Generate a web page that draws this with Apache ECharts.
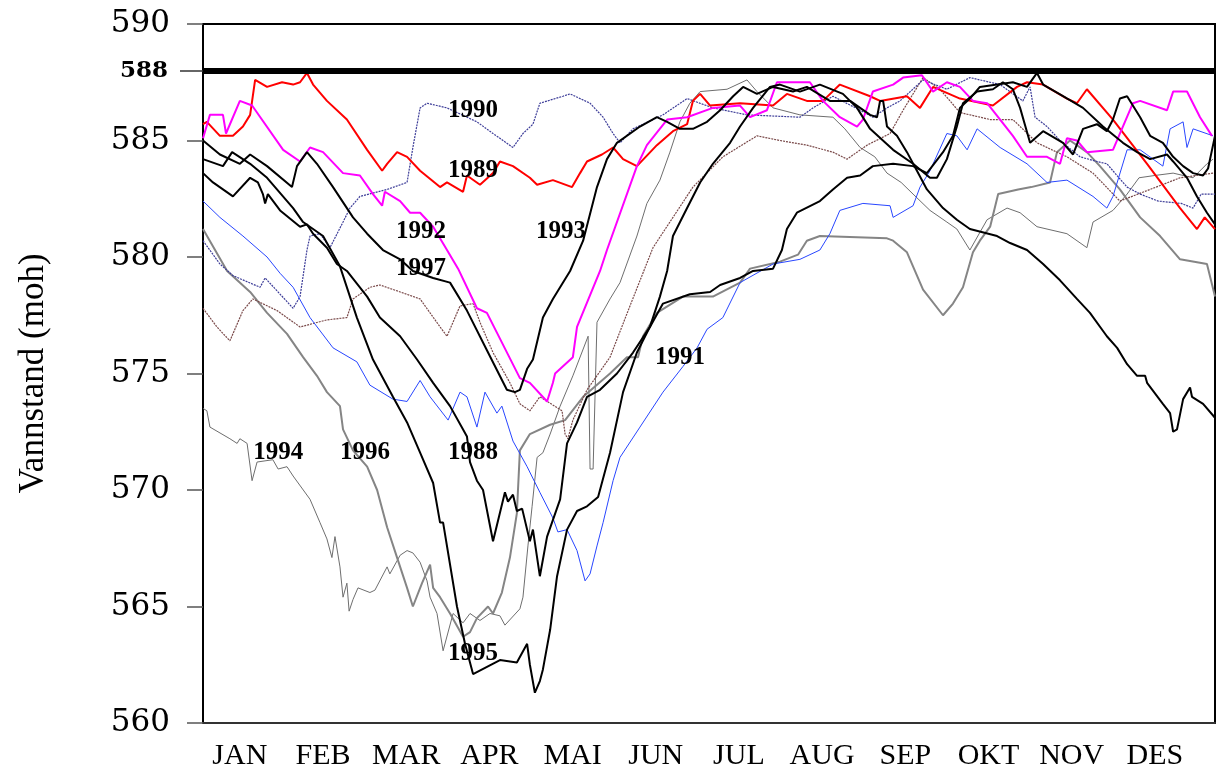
<!DOCTYPE html>
<html>
<head>
<meta charset="utf-8">
<title>Vannstand</title>
<script src="https://cdn.jsdelivr.net/npm/echarts@6/dist/echarts.min.js"></script>
<style>
  html, body { margin: 0; padding: 0; background: #fff; }
  #chart { width: 1223px; height: 771px; }
</style>
</head>
<body>
<div id="chart"></div>
<script>
// x = day of year (0..365), y = vannstand (moh)
const months = ['JAN', 'FEB', 'MAR', 'APR', 'MAI', 'JUN', 'JUL', 'AUG', 'SEP', 'OKT', 'NOV', 'DES']
const monthPos = months.map((m, i) => 13.3 + 30 * i)
const yTicks = [560, 565, 570, 575, 580, 585, 590]
const hrv = 588

const y1988 = [[0,583.6],[3.6,583.2],[10.8,582.6],[17,583.4],[19.8,583.2],[21.6,582.7],[22.4,582.3],[23.4,582.7],[27.8,582.0],[35,581.3],[37.5,581.4],[39.7,581.0],[44.7,580.4],[48.3,579.7],[51.9,579.4],[59.2,578.3],[63.8,577.4],[71.1,576.6],[77.2,575.6],[83,574.6],[89.1,573.6],[93.8,572.6],[95.2,572.3],[96.3,571.2],[98.8,570.4],[101,570.0],[104.6,567.8],[108.9,569.9],[110,569.5],[111.8,569.8],[113.2,569.1],[115.1,569.2],[117.9,567.8],[119,568.3],[121.5,566.3],[124.1,568.0],[128.8,569.6],[131.3,572.0],[134.9,572.9],[138.5,574.0],[143.2,574.3],[149.3,575.0],[155.1,575.9],[161.2,577.0],[165.9,578.0],[175.6,578.4],[182.9,578.5],[186.5,578.8],[193.7,579.1],[198.4,579.4],[205.6,579.5],[208.8,580.3],[210.6,581.2],[214.2,581.9],[222.5,582.4],[227.2,582.9],[232.3,583.4],[237,583.5],[241.6,583.9],[248.9,584.0],[256.1,583.9],[261.1,583.6],[266.9,584.5],[270.5,585.2],[273,586.4],[276.6,586.8],[280.2,587.3],[286.4,587.4],[292.1,587.5],[297.2,587.3],[300.8,587.9],[303,587.4],[310.2,586.9],[317.4,586.4],[324.6,585.6],[331.8,584.9],[336.9,584.5],[341.6,584.2],[347.7,584.4],[349.9,584.1],[354.9,583.4],[358.5,582.6],[362.1,581.9],[365,581.4]]

const y1989 = [[0,585.7],[1.4,585.8],[6.1,585.2],[10.8,585.2],[14.4,585.6],[17,586.1],[18.8,587.6],[23.1,587.3],[28.5,587.5],[32.5,587.4],[35,587.5],[37.5,587.9],[39.7,587.4],[44.7,586.7],[51.9,585.9],[59.2,584.6],[64.6,583.7],[66.4,584.0],[70,584.5],[73.6,584.3],[78.3,583.7],[85.5,583.0],[88,583.2],[93.8,582.8],[95.2,583.5],[99.9,583.1],[104.6,583.6],[107.1,584.1],[111.8,583.9],[117.9,583.4],[120.5,583.1],[126.2,583.3],[133.1,583.0],[136,583.6],[138.5,584.1],[143.9,584.4],[147.9,584.7],[151.5,584.2],[156.5,583.9],[163.7,584.8],[169.5,585.4],[174.6,585.7],[176.7,586.7],[179.3,587.0],[182.9,586.5],[193.7,586.6],[205.6,586.5],[210.6,587.0],[217.8,586.7],[223.6,586.7],[229.7,587.4],[240.6,586.9],[244.2,586.7],[253.9,586.9],[258.6,586.4],[263.3,587.3],[273,586.8],[284.9,586.5],[293.6,587.3],[297.2,587.5],[303,587.4],[311.6,586.8],[315.2,586.6],[318.8,587.2],[328.2,585.9],[340.5,584.0],[352.4,582.1],[358.5,581.2],[361.3,581.7],[365,581.2]]

const y1990 = [[0,580.7],[6.1,579.7],[10.8,579.2],[20.6,578.7],[22.4,579.1],[32.5,577.8],[35,578.3],[37.5,580.3],[38.6,580.9],[42.2,581.0],[45.8,580.4],[50.5,581.5],[53,582.1],[56.6,582.6],[66.4,582.9],[73.6,583.2],[75.7,584.7],[78.3,586.4],[80.8,586.6],[88,586.4],[98.8,585.8],[104.6,585.3],[111.8,584.7],[115.4,585.3],[119,585.7],[121.5,586.6],[129.8,586.9],[132.4,587.0],[139.6,586.6],[144.3,586.0],[147.9,585.3],[150.4,584.9],[155.1,585.5],[165.9,586.1],[174.6,586.8],[183.9,586.4],[196.2,586.1],[215.3,586.0],[220,586.4],[227.2,586.9],[237,586.3],[241.6,586.0],[246.7,586.4],[251.4,586.7],[259.7,587.6],[268.3,587.2],[276.6,587.7],[287.5,587.4],[295.7,586.7],[298.3,587.3],[300.1,586.0],[304.4,585.6],[309.1,585.0],[316.3,584.3],[322.4,584.1],[326,584.0],[333.3,583.0],[338,582.7],[344.5,582.4],[352.8,582.3],[357.1,582.1],[360,582.7],[365,582.7]]

const y1991 = [[0,582.4],[6.1,581.7],[14.4,580.9],[23.1,580.0],[27.8,579.3],[32.5,578.7],[38.6,577.4],[46.9,576.1],[55.5,575.5],[60.2,574.5],[68.5,573.9],[73.6,573.8],[78.3,574.7],[81.9,574.0],[88.4,573.0],[92.7,574.2],[95.2,574.0],[98.8,572.7],[101.7,574.2],[106,573.3],[107.8,573.6],[111.8,572.1],[116.9,571.0],[121.5,569.9],[126.2,568.8],[128,568.2],[131.3,568.3],[134.9,567.4],[137.8,566.1],[139.6,566.4],[142.1,567.6],[144.3,568.6],[147.9,570.4],[150.4,571.4],[157.6,572.7],[165.9,574.2],[173.1,575.3],[178.2,576.1],[181.8,576.9],[187.5,577.4],[193.7,578.9],[205.6,579.7],[215.3,579.9],[222.5,580.3],[226.1,581.0],[229.7,582.0],[238,582.3],[247.8,582.2],[248.9,581.7],[256.1,582.2],[258.6,583.0],[262.2,583.7],[268.3,585.3],[271.9,585.2],[275.6,584.6],[279.2,585.5],[287.5,584.7],[297.2,584.0],[304.4,583.2],[311.6,583.3],[321,582.6],[326,582.1],[328.2,582.6],[333.3,584.6],[338,584.6],[346.2,583.9],[348.8,585.5],[353.5,585.8],[354.9,584.7],[357.1,585.5],[364.3,585.2]]

const y1992 = [[0,585.1],[2.5,586.1],[7.2,586.1],[8.3,585.3],[13.3,586.7],[17.7,586.5],[28.9,584.6],[35,584.1],[38.6,584.7],[43.3,584.5],[50.5,583.6],[56.6,583.5],[61.3,582.7],[64.6,582.2],[65.6,582.8],[71.1,582.4],[74.7,581.9],[78.3,581.9],[83,581.3],[88,580.3],[92,579.5],[98.8,577.8],[102.4,577.6],[114.3,574.8],[117.9,574.6],[124.1,573.8],[126.2,574.6],[127,575.0],[133.4,575.7],[134.9,577.0],[143.2,579.4],[145.7,580.3],[156.5,583.9],[160.1,584.8],[167.4,585.9],[174.6,586.0],[183.9,586.4],[193.7,586.5],[197.3,586.0],[203.4,586.3],[207,587.5],[218.9,587.5],[223.6,586.7],[229.7,586.0],[235.9,585.6],[238,585.9],[241.6,587.1],[248.9,587.4],[252.5,587.7],[259.3,587.8],[263.3,587.1],[268.3,587.5],[273,587.3],[277.7,586.7],[282.8,586.6],[287.5,585.9],[292.1,585.2],[297.2,584.3],[304.4,584.3],[309.1,584.0],[311.6,585.1],[315.2,585.0],[318.8,584.5],[328.2,584.6],[335.4,586.6],[338,586.7],[347.7,586.3],[349.9,587.1],[354.9,587.1],[359.6,586.0],[363.9,585.2]]

const y1993 = [[0,585.0],[6.1,584.4],[13.3,584.0],[17,584.4],[23.1,583.9],[32.1,583.0],[33.9,583.9],[37.5,584.5],[41.1,584.0],[46.9,583.0],[54.1,581.7],[59.2,581.0],[64.9,580.3],[71.1,579.9],[75.7,579.4],[83,579.1],[89.1,578.9],[95.2,577.7],[102.4,576.0],[109.6,574.3],[112.5,574.2],[114.3,574.3],[116.9,575.2],[119,575.6],[122.6,577.4],[126.2,578.2],[132.4,579.4],[137.1,580.7],[142.1,583.0],[145.7,584.2],[149.3,584.9],[157.6,585.6],[163.7,586.0],[167.4,585.8],[172,585.5],[176.7,585.5],[181.8,585.8],[186.5,586.3],[191.2,586.9],[194.8,587.3],[199.8,587.0],[205.6,587.3],[212.8,587.1],[217.8,587.3],[226.1,586.7],[233.4,586.7],[240.6,586.1],[243.1,586.0],[244.2,586.7],[245.3,586.7],[246.7,585.6],[250.3,585.2],[253.9,584.5],[257.5,583.7],[261.1,582.9],[266.9,582.1],[271.9,581.6],[276.6,581.2],[286.4,580.9],[291.1,580.6],[297.2,580.3],[303,579.7],[309.1,579.0],[315.2,578.2],[319.9,577.6],[326,576.6],[329.7,576.1],[333.3,575.4],[336.9,574.9],[339.8,574.9],[340.5,574.6],[346.2,573.7],[348.8,573.3],[349.9,572.5],[351.3,572.6],[353.5,573.9],[356,574.4],[356.7,574.0],[360.7,573.7],[365,573.1]]

const y1994 = [[0,573.5],[1.4,573.4],[2.5,572.7],[9.7,572.2],[12.3,572.0],[13.3,572.2],[15.9,572.0],[17.7,570.4],[19.5,571.2],[25.2,571.3],[27.1,570.9],[30.3,571.0],[32.5,570.6],[38.6,569.6],[42.2,568.6],[44.7,567.9],[46.5,567.1],[47.6,568.0],[49.4,566.7],[50.5,565.4],[51.9,566.0],[52.7,564.8],[54.1,565.3],[55.9,565.8],[60.2,565.6],[62,565.7],[66.4,566.7],[67.4,566.4],[71.1,567.2],[73.6,567.4],[75.7,567.3],[78.3,566.9],[80.8,566.1],[81.9,565.4],[84.4,564.7],[86.6,563.1],[90.2,564.7],[93.8,564.3],[96.3,564.7],[99.9,564.4],[103.5,564.7],[107.1,564.6],[108.9,564.2],[114.3,564.9],[115.4,565.4],[117.2,567.6],[118.7,569.3],[120.5,571.4],[122.6,571.6],[125.2,572.4],[128.8,573.6],[133.4,574.9],[138.9,576.6],[139.6,570.9],[140.7,570.9],[142.1,577.2],[146.8,578.2],[150.4,578.9],[156.5,580.9],[160.1,582.3],[164.8,583.3],[168.4,584.5],[172,585.8],[175.6,586.6],[179.3,587.1],[189,587.2],[196.2,587.6],[199.8,587.1],[205.6,586.4],[215.3,586.1],[227.2,586.0],[231.5,585.5],[237,584.7],[242.3,584.3],[246.7,583.6],[251.8,583.2],[256.1,582.7],[262.2,582.0],[268.3,581.5],[271.9,581.2],[276.6,580.3],[282.8,581.6],[290,582.1],[294.7,581.9],[300.8,581.3],[311.6,581.0],[318.8,580.4],[321,581.5],[328.2,582.0],[333.3,582.7],[337.6,583.4],[343.4,583.5],[349.9,583.6],[357.1,583.4],[362.1,584.0],[364.3,584.2]]

const y1995 = [[0,584.2],[7.2,583.9],[10.5,584.5],[17,584.0],[23.1,583.4],[32.5,582.1],[36.1,581.5],[43.3,580.9],[49.4,579.6],[55.5,577.4],[61.3,575.6],[68.5,574.0],[73.6,572.9],[78.3,571.6],[83,570.3],[85.5,568.6],[86.6,568.6],[91.6,565.0],[94.5,563.4],[97.4,562.1],[107.1,562.7],[113.2,562.6],[116.9,563.4],[117.9,562.5],[119.7,561.3],[121.5,561.8],[122.6,562.3],[125.2,564.0],[127.7,566.3],[131.3,568.3],[134.9,569.1],[138.5,569.3],[142.5,569.7],[146.8,571.6],[151.5,574.2],[156.5,575.9],[161.2,577.0],[164.8,578.3],[167.4,579.4],[169.5,580.9],[174.6,582.1],[179.3,583.2],[183.9,584.0],[190.1,584.9],[193.7,585.6],[198.4,586.4],[204.5,587.3],[208.1,587.4],[215.3,587.1],[222.5,587.4],[230.8,587.0],[235.9,586.4],[240.6,585.5],[248.9,584.6],[256.1,584.0],[262.2,583.4],[264.7,583.4],[268.3,584.2],[271.9,585.6],[274.1,586.6],[279.2,587.1],[284.9,587.2],[288.5,587.5],[292.1,587.2],[294.7,586.4],[298.3,584.9],[303,585.4],[310.2,584.9],[313.8,584.4],[317.4,585.5],[322.4,585.7],[326,585.4],[328.2,585.9],[330.7,586.8],[333.3,586.9],[338,586.0],[341.6,585.2],[346.2,584.9],[349.9,584.3],[353.5,583.9],[357.1,583.6],[360.7,583.5],[362.5,583.8],[365,585.2]]

const y1996 = [[0,581.2],[8.7,579.4],[17,578.5],[23.1,577.6],[30.3,576.7],[36.1,575.7],[41.1,574.9],[44.7,574.2],[49.4,573.6],[50.5,572.6],[54.1,571.7],[59.2,571.0],[62.8,570.0],[66.4,568.4],[70,567.1],[73.6,565.8],[75.7,565.0],[79,566.0],[81.9,566.8],[83,565.8],[85.5,565.4],[89.1,564.7],[93.8,563.7],[96.3,563.9],[98.8,564.5],[102.8,565.0],[104.6,564.7],[107.8,565.6],[110.7,567.1],[113.2,569.0],[114.3,571.7],[117.9,572.4],[125.2,572.8],[130.6,573.0],[137.1,574.0],[146.8,575.0],[152.9,575.7],[156.9,575.7],[158.7,576.6],[163.7,577.6],[173.1,578.3],[183.9,578.3],[193.7,578.9],[197.3,579.5],[208.1,579.8],[214.6,580.1],[217.8,580.7],[222.5,580.9],[246.7,580.8],[248.9,580.7],[253.9,580.2],[259.7,578.6],[266.9,577.5],[270.5,578.0],[274.1,578.7],[277.7,580.2],[280.2,580.7],[283.9,581.3],[286.8,582.7],[294,582.9],[298.7,583.0],[305.5,583.2],[308,584.5],[312.7,585.0],[318.8,584.5],[323.5,583.9],[330.7,582.9],[338,581.7],[345.2,580.9],[352.4,579.9],[362.1,579.7],[365,578.3]]

const y1997 = [[0,577.8],[5,577.0],[9.7,576.4],[14.4,577.7],[18,578.2],[26.7,577.7],[35,577.0],[44.7,577.3],[51.9,577.4],[54.1,578.2],[60.2,578.7],[63.8,578.8],[71.1,578.5],[78.3,578.2],[85.5,577.0],[88,576.6],[92.7,577.9],[97.4,578.0],[99.9,577.2],[104.6,575.9],[110.7,574.6],[114.3,573.7],[117.9,573.4],[121.5,574.0],[129.5,573.4],[130.6,572.4],[131.6,572.2],[133.4,573.0],[138.5,574.3],[146.8,575.7],[154,577.9],[162.3,580.4],[169.5,581.7],[176.7,583.0],[187.5,584.3],[199.8,585.2],[208.1,585.0],[217.8,584.8],[227.2,584.5],[232.3,584.2],[239.5,584.8],[247.8,585.3],[252.5,586.3],[259.7,587.7],[265.8,587.2],[273,586.2],[283.9,585.9],[292.1,585.9],[300.8,584.9],[311.6,584.3],[321,583.6],[330.7,582.4],[341.6,582.9],[352.4,583.4],[364.3,583.6]]

// year labels placed in the plot: [day, moh, text]
const yearLabels = [[97.4,586.3,'1990'],[97.4,583.7,'1989'],[78.6,581.1,'1992'],[129.1,581.1,'1993'],[78.6,579.5,'1997'],[172,575.7,'1991'],[27.1,571.6,'1994'],[58.4,571.6,'1996'],[97.4,571.6,'1988'],[97.4,563.0,'1995']]

const chart = echarts.init(document.getElementById('chart'))

function line(data, color, width, type) {
  return {
    type: 'line',
    data: data,
    showSymbol: false,
    symbol: 'none',
    smooth: false,
    lineStyle: { color: color, width: width, type: type || 'solid' },
    z: 2
  }
}

const option = {
  animation: false,
  backgroundColor: '#fff',
  grid: {
    left: 203,
    right: 8,
    top: 24,
    bottom: 48,
    show: true,
    borderColor: '#000',
    borderWidth: 2
  },
  xAxis: {
    type: 'value',
    min: 0,
    max: 365,
    axisLine: { show: true, onZero: false, lineStyle: { color: '#333', width: 2 } },
    axisTick: { show: false },
    splitLine: { show: false },
    axisLabel: {
      customValues: monthPos,
      formatter: function(v) {
        return months[Math.round((v - 13.3) / 30)]
      },
      fontFamily: 'Liberation Serif',
      fontSize: 30,
      color: '#000',
      margin: 18
    }
  },
  yAxis: [{
    type: 'value',
    min: 560,
    max: 590,
    interval: 5,
    axisLine: { show: true, lineStyle: { color: '#000', width: 2 } },
    axisTick: { show: true, length: 16, customValues: yTicks, lineStyle: { color: '#555', width: 1.5 } },
    axisLabel: {
      customValues: yTicks,
      margin: 33,
      fontFamily: 'DejaVu Serif',
      fontSize: 31,
      color: '#000'
    },
    splitLine: { show: false },
    name: 'Vannstand (moh)',
    nameLocation: 'middle',
    nameGap: 152,
    nameTextStyle: { fontFamily: 'Liberation Serif', fontSize: 35, color: '#000' }
  }, {
    type: 'value',
    min: 560,
    max: 590,
    position: 'left',
    axisLine: { show: false },
    axisTick: { show: true, length: 23, customValues: [hrv], lineStyle: { color: '#333', width: 1.5 } },
    axisLabel: {
      customValues: [hrv],
      margin: 35,
      fontFamily: 'DejaVu Serif',
      fontWeight: 'bold',
      fontSize: 23,
      color: '#000'
    },
    splitLine: { show: false }
  }],
  series: [
    line(y1994, '#6e6e6e', 1),
    line(y1996, '#858585', 2),
    line(y1997, '#7a4a4a', 1.2, [2, 1]),
    line(y1990, '#3c3c98', 1.2, [2, 1]),
    line(y1991, '#2846ff', 1),
    line(y1989, '#ff0000', 2),
    line(y1992, '#ff00ff', 2),
    line(y1988, '#000000', 2),
    line(y1995, '#000000', 2),
    line(y1993, '#000000', 2),
    {
      type: 'scatter',
      data: yearLabels,
      symbolSize: 0,
      z: 5,
      itemStyle: { opacity: 1 },
      label: {
        show: true,
        position: 'inside',
        formatter: p => p.data[2],
        fontFamily: 'Liberation Serif',
        fontWeight: 'bold',
        fontSize: 25,
        color: '#000',
        opacity: 1,
        textShadowColor: 'rgba(0,0,0,0.3)',
        textShadowOffsetX: 2,
        textShadowOffsetY: 2,
        textShadowBlur: 0
      },
      markLine: {
        silent: true,
        symbol: 'none',
        label: { show: false },
        lineStyle: { color: '#000', width: 6, type: 'solid', opacity: 1 },
        data: [{ yAxis: hrv }]
      }
    }
  ]
}

chart.setOption(option)
</script>
</body>
</html>
